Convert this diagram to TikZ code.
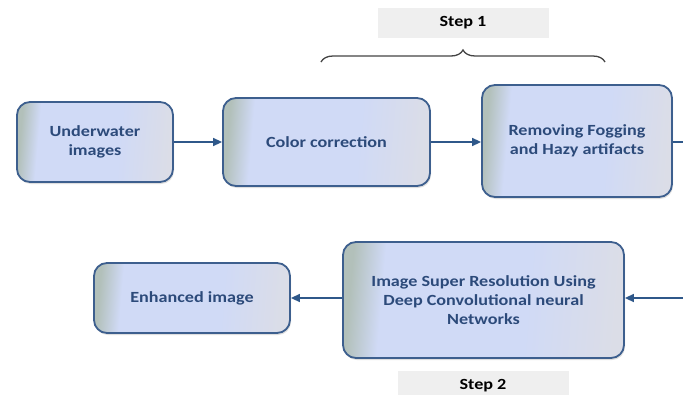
\documentclass[tikz,border=0pt]{standalone}
\usepackage{fontspec}
\newfontfamily\diafont{Carlito}[FakeStretch=1.17]
\usetikzlibrary{arrows.meta,positioning,calc,decorations.pathreplacing,shadows}

\definecolor{boxline}{RGB}{61,95,142}
\definecolor{boxtext}{RGB}{44,74,122}
\definecolor{arrowc}{RGB}{47,88,138}
\definecolor{stepfill}{RGB}{239,239,239}
\definecolor{bracec}{RGB}{68,68,68}
\definecolor{leftc}{RGB}{178,192,186}
\definecolor{midc}{RGB}{208,218,246}
\definecolor{rightc}{RGB}{219,221,231}
\pgfdeclarehorizontalshading{boxshade}{100bp}{color(0bp)=(leftc); color(25bp)=(leftc);
  color(31bp)=(midc); color(58bp)=(midc); color(75bp)=(rightc); color(100bp)=(rightc)}

\begin{document}
\begin{tikzpicture}[
  x=1pt, y=-1pt,
  stage/.style={draw=boxline, line width=1.8pt, rounded corners=13pt,
                shading=boxshade, shading angle=-5, align=center,
                font=\diafont\bfseries\fontsize{15.5}{19}\selectfont, text=boxtext,
                drop shadow={opacity=0.25, shadow xshift=1pt, shadow yshift=-2pt}},
  steplabel/.style={fill=stepfill, minimum height=30pt, minimum width=171pt,
                font=\diafont\bfseries\fontsize{15.5}{19}\selectfont},
  flow/.style={draw=arrowc, line width=1.5pt, -{Triangle[length=9pt,width=8pt]}},
  >=Stealth
]
  \useasboundingbox (0,0) rectangle (683,394);

  % first row
  \node[stage, minimum width=156pt, minimum height=80pt]  (under) at (95,142)    {Underwater\\images};
  \node[stage, minimum width=207pt, minimum height=88pt]  (color) at (326.5,142) {Color correction};
  \node[stage, minimum width=190pt, minimum height=112pt] (fog)   at (577,141)   {Removing Fogging\\and Hazy artifacts};

  % second row
  \node[stage, minimum width=281pt, minimum height=116pt] (isr) at (483.5,300)
        {Image Super Resolution Using\\Deep Convolutional neural\\Networks};
  \node[stage, minimum width=196pt, minimum height=70pt]  (enh) at (192,298) {Enhanced image};

  % step labels
  \node[steplabel] (step1) at (463,23)  {Step 1};
  \node[steplabel] (step2) at (483,386) {Step 2};
  \draw[bracec, line width=1.3pt, decorate, decoration={brace, amplitude=12pt}]
      (321,62) -- (605,62);

  % connectors
  \coordinate (outR) at (683,142);
  \coordinate (inR)  at (683,298);
  \draw[flow] (under.east) -- (color.west);
  \draw[flow] (color.east) -- (color.east -| fog.west);
  \draw[draw=arrowc, line width=1.5pt] (fog.east |- outR) -- (outR);
  \draw[flow] (inR) -- (inR -| isr.east);
  \draw[flow] (isr.west |- enh.east) -- (enh.east);
\end{tikzpicture}
\end{document}
